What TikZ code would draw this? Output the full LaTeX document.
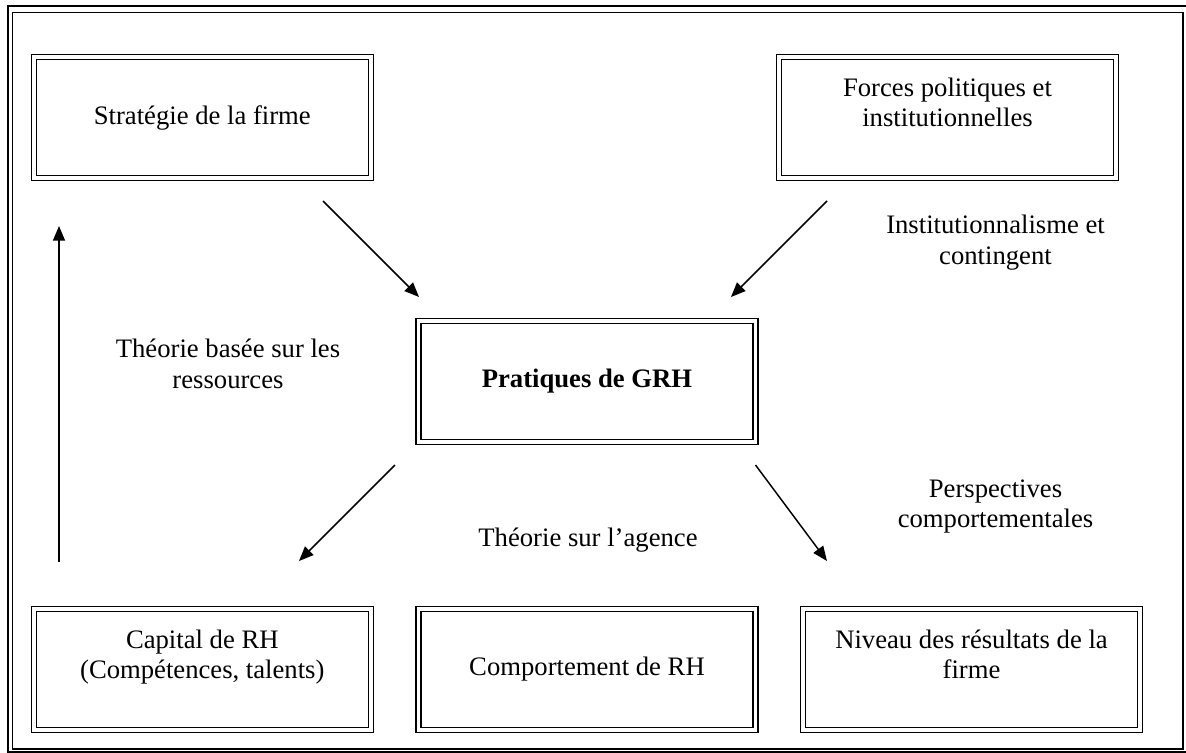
\documentclass[tikz,border=0pt]{standalone}
\usepackage{fontspec}
\setmainfont{Liberation Serif}
\usetikzlibrary{arrows.meta}

\tikzset{
  dblbox/.style={draw, double, line width=1pt, double distance=2.8pt,
    minimum width=252.6pt, minimum height=90.4pt, inner sep=0pt,
    align=center, font=\fontsize{20}{22.5}\selectfont},
  lbl/.style={align=center, inner sep=0pt, font=\fontsize{20}{23}\selectfont},
  arr/.style={line width=1.1pt, -{Triangle[length=11pt,width=9pt]}}
}

\begin{document}
\begin{tikzpicture}[x=0.75pt,y=0.75pt,yscale=-1,xscale=1]
\useasboundingbox (0,0) rectangle (1186,753);

%Shape: Frame
\draw [line width=1.5pt] (7.5,6) rectangle (1190,752);
\draw [line width=1pt] (12.5,12.5) rectangle (1183,749);

%Shape: Boxes
\node [dblbox] (strat) at (202.3,117.5) {Stratégie de la firme};
\node [dblbox] (forces) at (947.5,117.5) {Forces politiques et\\institutionnelles\\\mbox{}};
\node [dblbox] (pratiq) at (587,381.5) {\textbf{Pratiques de GRH}};
\node [dblbox] (capital) at (202.3,669.5) {Capital de RH\\(Compétences, talents)\\\mbox{}};
\node [dblbox] (comport) at (587,669.5) {Comportement de RH};
\node [dblbox] (niveau) at (971.5,669.5) {Niveau des résultats de la\\firme\\\mbox{}};

%Straight Lines
\coordinate (a1s) at (323,201);
\coordinate (a1e) at (419,297);
\coordinate (a2s) at (827,201);
\coordinate (a2e) at (731,297);
\coordinate (a3s) at (395,465);
\coordinate (a3e) at (299,561);
\coordinate (a4s) at (755.5,465);
\coordinate (a4e) at (827,561);
\coordinate (ups) at (59,562);
\coordinate (upe) at (59,226);
\draw [arr] (a1s) -- (a1e);
\draw [arr] (a2s) -- (a2e);
\draw [arr] (a3s) -- (a3e);
\draw [arr] (a4s) -- (a4e);
\draw [arr] (ups) -- (upe);

% Text Node
\node [lbl] (rbv) at (228,364) {Théorie basée sur les\\ressources};
% Text Node
\node [lbl] (inst) at (995.5,242.5) {Institutionnalisme et\\contingent};
% Text Node
\node [lbl] (persp) at (995.5,506.5) {Perspectives\\comportementales};
% Text Node
\node [lbl] (agence) at (588,540) {Théorie sur l’agence};

\end{tikzpicture}
\end{document}
